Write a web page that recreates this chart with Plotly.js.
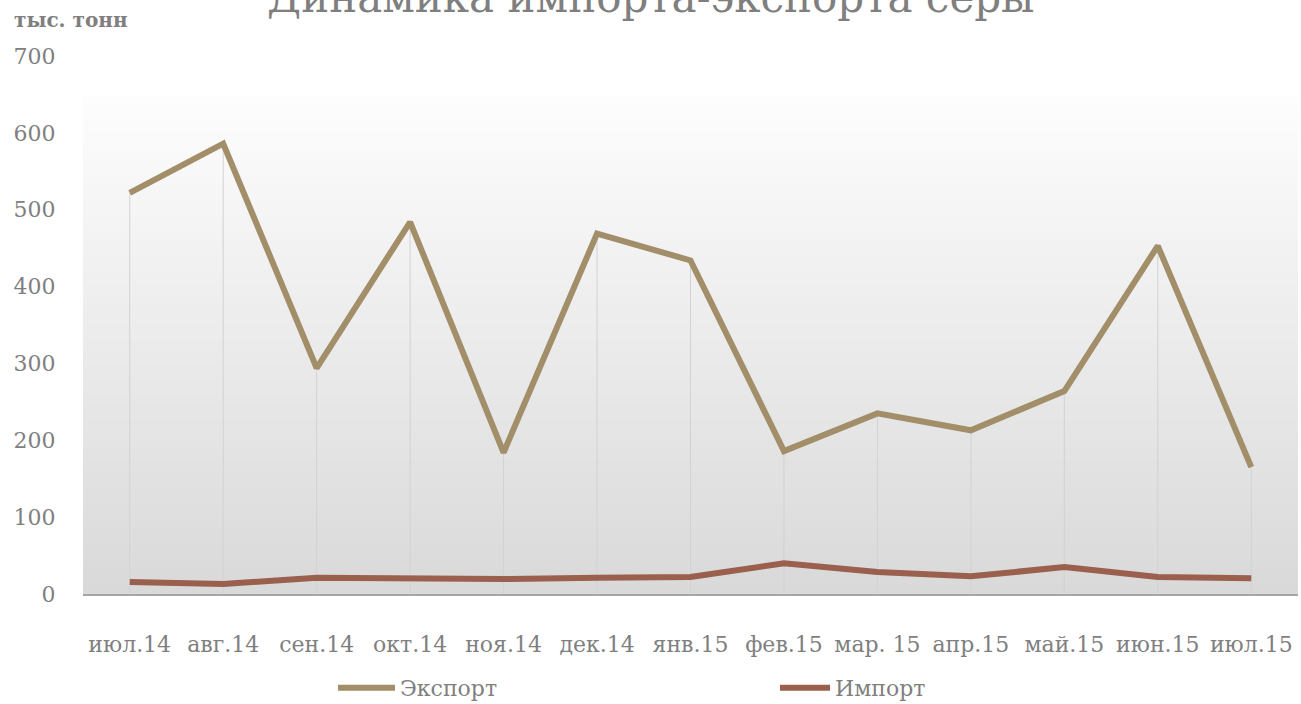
<!DOCTYPE html>
<html>
<head>
<meta charset="utf-8">
<script src="https://cdn.plot.ly/plotly-3.0.1.min.js"></script>
<style>html,body{margin:0;padding:0;background:#fff;}#chart{width:1301px;height:704px;}</style>
</head>
<body>
<div id="chart"></div>
<script>
const categories = ["июл.14","авг.14","сен.14","окт.14","ноя.14","дек.14","янв.15","фев.15","мар. 15","апр.15","май.15","июн.15","июл.15"];
const exportValues = [522, 586, 294, 484, 184, 469, 434, 186, 235, 213, 264, 453, 165];
const importValues = [15.5, 13, 21, 19.5, 19.5, 21, 22, 40, 28.5, 23, 35, 22, 20.5];
const seriesNames = ["Экспорт", "Импорт"];
const yTicks = [0, 100, 200, 300, 400, 500, 600, 700];

const FONT = "DejaVu Serif, serif";
const GRAY = "#7f7f7f";

// drop lines built from data
const dropX = [], dropY = [];
categories.forEach((c, i) => {
  dropX.push(c, c, null);
  dropY.push(0, Math.max(exportValues[i], importValues[i]), null);
});

// gradient background: overlapping bands (no seams)
const bgShapes = [];
const NB = 100, bgTop = 648;
for (let k = 0; k < NB; k++) {
  const f = k / (NB - 1);
  const v = Math.round(0xd9 + (0xfd - 0xd9) * f);
  bgShapes.push({type:"rect", layer:"below", xref:"paper", yref:"y",
    x0:0, x1:1, y0: bgTop * k / NB, y1: bgTop,
    fillcolor: `rgb(${v},${v},${v})`, line:{width:0}});
}

const traces = [
  {x: dropX, y: dropY, mode:"lines", line:{color:"#d2d2d2", width:1}, hoverinfo:"skip", showlegend:false},
  {x: categories, y: exportValues, name: seriesNames[0], mode:"lines",
   line:{color:"#a28e68", width:6}, legend:"legend"},
  {x: categories, y: importValues, name: seriesNames[1], mode:"lines",
   line:{color:"#9a5f4d", width:6}, legend:"legend2"}
];

const legendFont = {family: FONT, size: 22, color: GRAY};
const layout = {
  width: 1301, height: 704,
  margin: {l:83, r:3, t:56, b:110},
  paper_bgcolor: "#ffffff",
  plot_bgcolor: "rgba(0,0,0,0)",
  font: {family: FONT, color: GRAY, size: 22},
  xaxis: {type:"category", range:[-0.5, 12.5], showgrid:false, zeroline:false,
    showline:true, linecolor:"#a6a6a6", linewidth:1.5, tickangle:0,
    ticks:"outside", ticklen:30, tickcolor:"rgba(0,0,0,0)",
    tickfont:{family: FONT, size: 22, color: GRAY}, fixedrange:true},
  yaxis: {range:[0, 700], tickvals: yTicks, ticktext: yTicks.map(String),
    showgrid:false, zeroline:false, showline:false,
    ticks:"outside", ticklen:22, tickcolor:"rgba(0,0,0,0)",
    tickfont:{family: FONT, size: 22, color: GRAY}, fixedrange:true},
  legend: {orientation:"h", xref:"container", yref:"container", x:333/1301, xanchor:"left",
    y:1 - 688/704, yanchor:"middle", itemwidth:57,
    font: legendFont, bgcolor:"rgba(0,0,0,0)"},
  legend2: {orientation:"h", xref:"container", yref:"container", x:775/1301, xanchor:"left",
    y:1 - 688/704, yanchor:"middle", itemwidth:50,
    font: legendFont, bgcolor:"rgba(0,0,0,0)"},
  shapes: bgShapes,
  annotations: [
    {text:"Динамика импорта-экспорта серы", xref:"paper", yref:"paper",
     x:(651-83)/1215, y:1 + 59/538, xanchor:"center", yanchor:"middle", showarrow:false,
     font:{family: FONT, size: 42, color: GRAY}},
    {text:"<b>тыс. тонн</b>", xref:"paper", yref:"paper", x:-71/1215, y:1 + 36/538,
     xanchor:"left", yanchor:"middle", showarrow:false,
     font:{family: FONT, size: 20, color: GRAY}}],
  showlegend: true
};

Plotly.newPlot("chart", traces, layout, {displayModeBar:false, staticPlot:true});
</script>
</body>
</html>
